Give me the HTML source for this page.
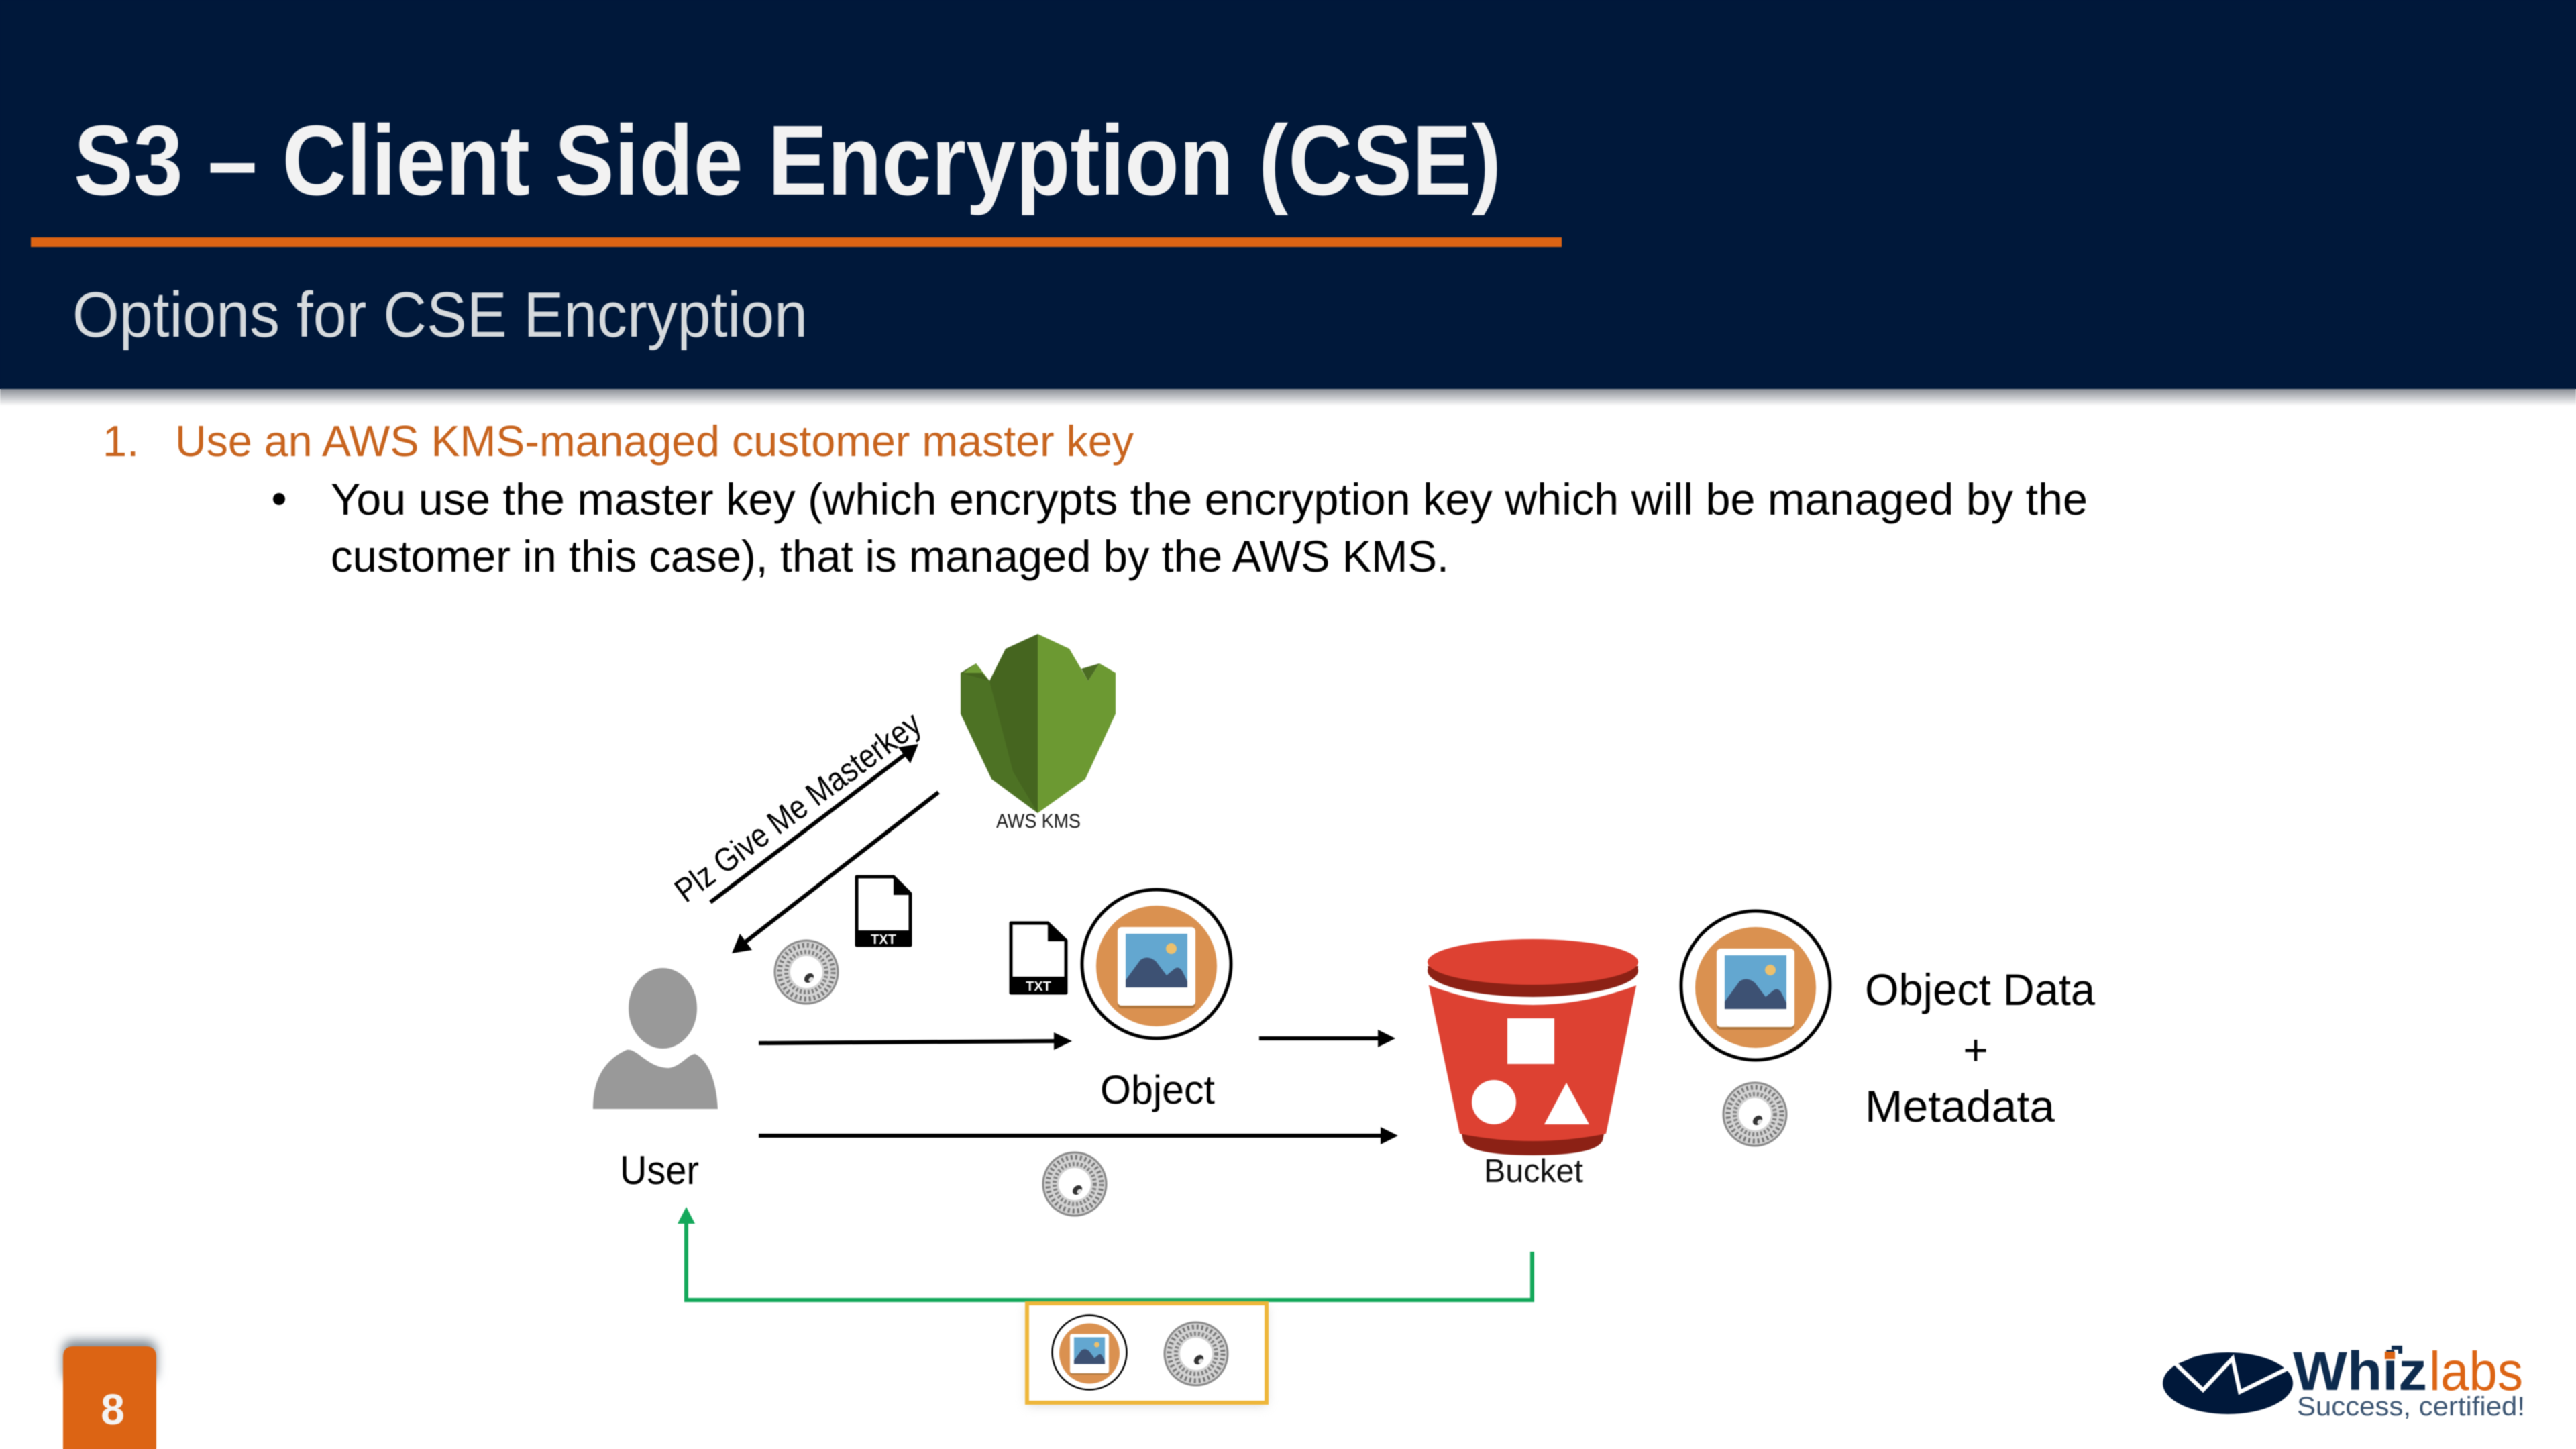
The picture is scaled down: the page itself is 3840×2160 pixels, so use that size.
<!DOCTYPE html>
<html><head><meta charset="utf-8"><title>S3 – Client Side Encryption (CSE)</title>
<style>html,body{margin:0;padding:0;background:#fff;width:3840px;height:2160px;overflow:hidden;position:relative}svg{display:block;position:absolute;left:0;top:0;filter:blur(.9px)}text{font-family:"Liberation Sans",sans-serif}.u{position:absolute}</style></head>
<body>
<div class="u" style="left:0;top:0;width:3840px;height:580px;background:#00183a"></div>
<div class="u" style="left:94px;top:2100px;width:139px;height:60px;background:#dc6414"></div>
<svg xmlns="http://www.w3.org/2000/svg" width="3840" height="2160" viewBox="0 0 3840 2160">
<defs>
<linearGradient id="hs" x1="0" y1="0" x2="0" y2="1"><stop offset="0" stop-color="#8b8f96"/><stop offset="1" stop-color="#fff"/></linearGradient>
<filter id="soft" x="-20%" y="-40%" width="140%" height="180%"><feGaussianBlur stdDeviation="8"/></filter>
<g id="seal">
<circle r="47" fill="#d2d2d2"/>
<circle r="47" fill="none" stroke="#8a8a8a" stroke-width="3"/>
<circle r="40" fill="none" stroke="#777" stroke-width="7" stroke-dasharray="3 4"/>
<circle r="30" fill="none" stroke="#808080" stroke-width="6" stroke-dasharray="3 3"/>
<circle r="24" fill="#fff"/>
<ellipse cx="4" cy="9" rx="8" ry="6" fill="#333" transform="rotate(-45 4 9)"/>
<ellipse cx="7" cy="11" rx="4" ry="3" fill="#ddd" transform="rotate(-45 7 11)"/>
</g>
<g id="pic">
<circle r="111" fill="#fff" stroke="#000" stroke-width="5"/>
<circle cy="3" r="90" fill="#da9150"/>
<rect x="-58" y="-55" width="116" height="121" rx="6" fill="#b0763c"/>
<rect x="-58" y="-55" width="116" height="117" rx="6" fill="#fff"/>
<rect x="-46" y="-45" width="92" height="80" fill="#63a7d0"/>
<circle cx="22" cy="-23" r="8" fill="#edc06c"/>
<path d="M-46 35V24L-24 -6Q-13 -14 -1 -4L15 17L27 7Q33 3 38 10L46 26V35Z" fill="#3d5173"/>
</g>
</defs>

<rect width="3840" height="2160" fill="#fff"/>
<rect y="580" width="3840" height="25" fill="url(#hs)"/>
<rect width="3840" height="580" fill="#00183a"/>
<text x="110" y="290" font-size="148" font-weight="700" fill="#f2f2f2" textLength="2128" lengthAdjust="spacingAndGlyphs">S3 – Client Side Encryption (CSE)</text>
<rect x="46" y="354" width="2282" height="14" fill="#dc6414"/>
<text x="108" y="502" font-size="96" fill="#d6dadd" textLength="1096" lengthAdjust="spacingAndGlyphs">Options for CSE Encryption</text>

<text x="153" y="680" font-size="65" fill="#c8641e">1.</text>
<text x="261" y="680" font-size="65" fill="#c8641e" textLength="1429" lengthAdjust="spacingAndGlyphs">Use an AWS KMS-managed customer master key</text>
<circle cx="416" cy="744" r="9" fill="#000"/>
<text x="493" y="767" font-size="66" fill="#000" textLength="2619" lengthAdjust="spacingAndGlyphs">You use the master key (which encrypts the encryption key which will be managed by the</text>
<text x="493" y="852" font-size="66" fill="#000" textLength="1667" lengthAdjust="spacingAndGlyphs">customer in this case), that is managed by the AWS KMS.</text>

<!-- KMS -->
<path d="M1547 945L1499 967L1475 1015L1455 989L1432 1003V1064L1478 1161L1547 1212Z" fill="#45651f"/>
<path d="M1547 945L1594 967L1622 1015L1639 989L1663 1003V1064L1618 1161L1547 1212Z" fill="#6c9932"/>
<path d="M1432 1003V1064L1478 1161L1547 1212L1510 1150L1475 1015Z" fill="#4d7224"/>
<path d="M1455 989L1475 1015L1464 1003L1436 1003Z" fill="#6f9c35"/>
<path d="M1639 989L1622 1015L1612 997Z" fill="#4b6c23"/>
<text x="1485" y="1234" font-size="30" fill="#1a1a1a" textLength="126" lengthAdjust="spacingAndGlyphs">AWS KMS</text>

<!-- request / response arrows -->
<g stroke="#000" stroke-width="6" fill="none">
<line x1="1059" y1="1345" x2="1350" y2="1124"/>
<line x1="1399" y1="1181" x2="1110" y2="1405"/>
<line x1="1131" y1="1555" x2="1575" y2="1552"/>
<line x1="1877" y1="1548" x2="2058" y2="1548"/>
<line x1="1131" y1="1693" x2="2062" y2="1693"/>
</g>
<g fill="#000">
<path d="M1369 1109L1357 1138L1339 1114Z"/>
<path d="M1091 1421L1103 1392L1121 1416Z"/>
<path d="M1598 1552L1571 1539V1565Z"/>
<path d="M2080 1548L2054 1535V1561Z"/>
<path d="M2084 1693L2058 1680V1706Z"/>
</g>
<text transform="translate(1022 1347) rotate(-36.3)" font-size="50" fill="#000" textLength="440" lengthAdjust="spacingAndGlyphs">Plz Give Me Masterkey</text>

<!-- TXT docs -->
<path d="M1277 1307H1332L1357 1332V1409H1277Z" fill="#fff" stroke="#000" stroke-width="5" stroke-linejoin="round"/>
<path d="M1332 1307V1334H1358Z" fill="#000"/>
<rect x="1275" y="1387" width="84" height="24" rx="3" fill="#000"/>
<text x="1317" y="1407" font-size="20" font-weight="700" fill="#fff" text-anchor="middle">TXT</text>
<path d="M1507 1376H1562L1589 1402V1480H1507Z" fill="#fff" stroke="#000" stroke-width="5" stroke-linejoin="round"/>
<path d="M1562 1376V1403H1590Z" fill="#000"/>
<rect x="1505" y="1456" width="86" height="26" rx="3" fill="#000"/>
<text x="1548" y="1477" font-size="20" font-weight="700" fill="#fff" text-anchor="middle">TXT</text>

<!-- seals -->
<use href="#seal" x="1202" y="1449"/>
<use href="#seal" x="1602" y="1765"/>
<use href="#seal" x="2616" y="1661"/>

<!-- user -->
<ellipse cx="988" cy="1503" rx="51" ry="60" fill="#999"/>
<path d="M884 1653C884 1625 890 1585 934 1565C950 1562 965 1592 997 1592C1015 1590 1025 1572 1036 1571C1055 1580 1068 1610 1070 1653Z" fill="#999"/>
<text x="924" y="1765" font-size="60" fill="#000" textLength="118" lengthAdjust="spacingAndGlyphs">User</text>

<!-- object -->
<use href="#pic" x="1724" y="1437"/>
<text x="1640" y="1645" font-size="60" fill="#000" textLength="171" lengthAdjust="spacingAndGlyphs">Object</text>

<!-- bucket -->
<path d="M2128 1440L2181 1700Q2190 1722 2285 1722Q2380 1722 2389 1700L2442 1440Z" fill="#8c2115"/>
<path d="M2129 1465L2176 1690Q2285 1712 2394 1690L2440 1465Z" fill="#dd4132"/>
<path d="M2128 1468Q2285 1528 2442 1468L2442 1445H2128Z" fill="#fff"/>
<ellipse cx="2285" cy="1447" rx="157" ry="39" fill="#8c2115"/>
<ellipse cx="2285" cy="1434" rx="157" ry="34" fill="#dd4132"/>
<rect x="2247" y="1518" width="70" height="68" fill="#fff"/>
<circle cx="2227" cy="1643" r="33" fill="#fff"/>
<path d="M2335 1614L2302 1676H2369Z" fill="#fff"/>
<text x="2212" y="1762" font-size="49" fill="#111" textLength="148" lengthAdjust="spacingAndGlyphs">Bucket</text>

<!-- right group -->
<use href="#pic" x="2617" y="1469"/>
<text x="2780" y="1498" font-size="66" fill="#000" textLength="343" lengthAdjust="spacingAndGlyphs">Object Data</text>
<text x="2945" y="1587" font-size="64" fill="#000" text-anchor="middle">+</text>
<text x="2780" y="1672" font-size="66" fill="#000" textLength="283" lengthAdjust="spacingAndGlyphs">Metadata</text>

<!-- green return -->
<path d="M2284 1866V1938H1023V1820" fill="none" stroke="#13a85a" stroke-width="6"/>
<path d="M1023 1799L1010 1824H1036Z" fill="#13a85a"/>
<rect x="1531" y="1946" width="357" height="149" fill="#bbb" filter="url(#soft)" opacity=".55"/>
<rect x="1531" y="1943" width="357" height="148" fill="#fff" stroke="#eeb63a" stroke-width="6"/>
<g transform="translate(1624 2016) scale(.5)"><use href="#pic"/></g>
<use href="#seal" x="1783" y="2018"/>

<!-- page number -->
<rect x="94" y="1998" width="139" height="60" rx="14" fill="#7a8590" filter="url(#soft)"/>
<path d="M94 2160V2023Q94 2007 110 2007H217Q233 2007 233 2023V2160Z" fill="#dc6414"/>
<text x="168" y="2123" font-size="64" font-weight="700" fill="#f3f3f3" text-anchor="middle">8</text>

<!-- logo -->
<ellipse cx="3321" cy="2062" rx="97" ry="46" fill="#00183a"/>
<path d="M3240 2030L3284 2072L3328 2025L3339 2075L3420 2035" fill="none" stroke="#fff" stroke-width="6"/>
<path d="M3225 2040V2010H3262L3268 2024L3244 2034Z" fill="#fff"/>
<text x="3418" y="2072" font-size="82" font-weight="700" fill="#0d2b4e" textLength="200" lengthAdjust="spacingAndGlyphs">Whiz</text>
<text x="3621" y="2072" font-size="82" fill="#dc6414" textLength="140" lengthAdjust="spacingAndGlyphs">labs</text>
<rect x="3555" y="2015" width="15" height="11" fill="#dc6414"/>
<path d="M3565 2006H3581V2018H3575V2012H3565Z" fill="#0d2b4e"/>
<text x="3424" y="2110" font-size="40" fill="#3d5673" textLength="340" lengthAdjust="spacingAndGlyphs">Success, certified!</text>
</svg>
</body></html>
